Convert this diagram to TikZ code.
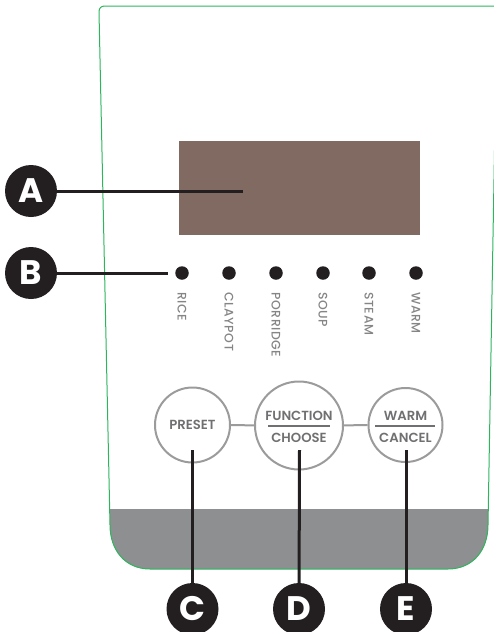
\documentclass[tikz,border=0pt]{standalone}
\usepackage{fontspec}
\setmainfont{Poppins}
\newfontfamily\medfont{Poppins SemiBold}
\newfontfamily\modefont{Poppins Medium}[LetterSpace=5]
\definecolor{ink}{HTML}{231F20}
\definecolor{screen}{HTML}{806A62}
\definecolor{band}{HTML}{8E8F91}
\definecolor{edge}{HTML}{2DB55D}
\definecolor{ring}{HTML}{9B9B9B}
\definecolor{btxt}{HTML}{707072}
\definecolor{mtxt}{HTML}{858585}
\tikzset{
  letter/.style={circle, fill=ink, minimum size=52pt, inner sep=0pt, text=white,
    font=\fontsize{34}{34}\selectfont\bfseries},
  pointer/.style={draw=ink, line width=3pt},
  led/.style={circle, fill=ink, minimum size=13.5pt, inner sep=0pt},
  modelabel/.style={anchor=west, rotate=-90, inner sep=0pt, text=mtxt,
    font=\fontsize{12.4}{12}\modefont},
  button/.style={circle, draw=ring, line width=2pt, inner sep=0pt},
  btntext/.style={inner sep=0pt, text=btxt, font=\fontsize{13.2}{13}\medfont},
  divider/.style={draw=btxt, line width=2.5pt},
  link/.style={draw=ring, line width=2pt},
}
\begin{document}
\begin{tikzpicture}[x=1pt,y=-1pt]
\useasboundingbox (0,0) rectangle (494,632);
\clip (0,0) rectangle (494,632);
% bottom grey band
\fill[band] (109.7,509) -- (110,525) .. controls (110,550) and (125,569) .. (150,569)
  -- (448,569) .. controls (473,569) and (488,550) .. (488,525) -- (488.3,509) -- cycle;
% panel outline
\draw[edge, line width=1pt] (497,6) -- (105,6) .. controls (101,6) and (99,8) .. (99,12)
  -- (110,525) .. controls (110,550) and (125,569) .. (150,569)
  -- (448,569) .. controls (473,569) and (488,550) .. (488,525) -- cycle;
% display
\node[fill=screen, minimum width=241pt, minimum height=94pt, inner sep=0pt] (disp) at (299.5,188) {};
% leds
\foreach \i/\x in {1/182,2/229,3/276,4/323,5/369,6/416}{
  \node[led] (d\i) at (\x,273) {};
}
\node[modelabel] (m1) at (182,292) {RICE};
\node[modelabel] (m2) at (229,292) {CLAYPOT};
\node[modelabel] (m3) at (276,292) {PORRIDGE};
\node[modelabel] (m4) at (323,292) {SOUP};
\node[modelabel] (m5) at (369,292) {STEAM};
\node[modelabel] (m6) at (416,292) {WARM};
% buttons
\node[button, minimum size=75pt] (preset) at (192.5,425) {};
\node[button, minimum size=88pt] (func) at (299,425.5) {};
\node[button, minimum size=74pt] (warm) at (405.5,425) {};
\draw[link] (preset) -- (func);
\draw[link] (func) -- (warm);
\node[btntext] (tpreset) at (192.5,425) {PRESET};
\node[btntext] (tfunc) at (299,416) {FUNCTION};
\node[btntext] (tchoose) at (299,438) {CHOOSE};
\node[btntext] (twarm) at (405.5,416) {WARM};
\node[btntext] (tcancel) at (405.5,438) {CANCEL};
\draw[divider] (268,426) -- (330,426);
\draw[divider] (375,426) -- (435,426);
% callouts
\node[letter] (A) at (31,191) {A};
\node[letter] (B) at (31,273) {B};
\node[letter] (C) at (192.5,609) {C};
\node[letter] (D) at (299,609) {D};
\node[letter] (E) at (406,609) {E};
\coordinate (pa) at (243,191);
\coordinate (pb) at (168,273);
\coordinate (pc) at (192.5,450);
\coordinate (pd) at (299.5,450);
\coordinate (pe) at (406,450);
\draw[pointer] (A) -- (pa);
\draw[pointer] (B) -- (pb);
\draw[pointer] (C) -- (pc);
\draw[pointer] (D) -- (pd);
\draw[pointer] (E) -- (pe);
\end{tikzpicture}
\end{document}
